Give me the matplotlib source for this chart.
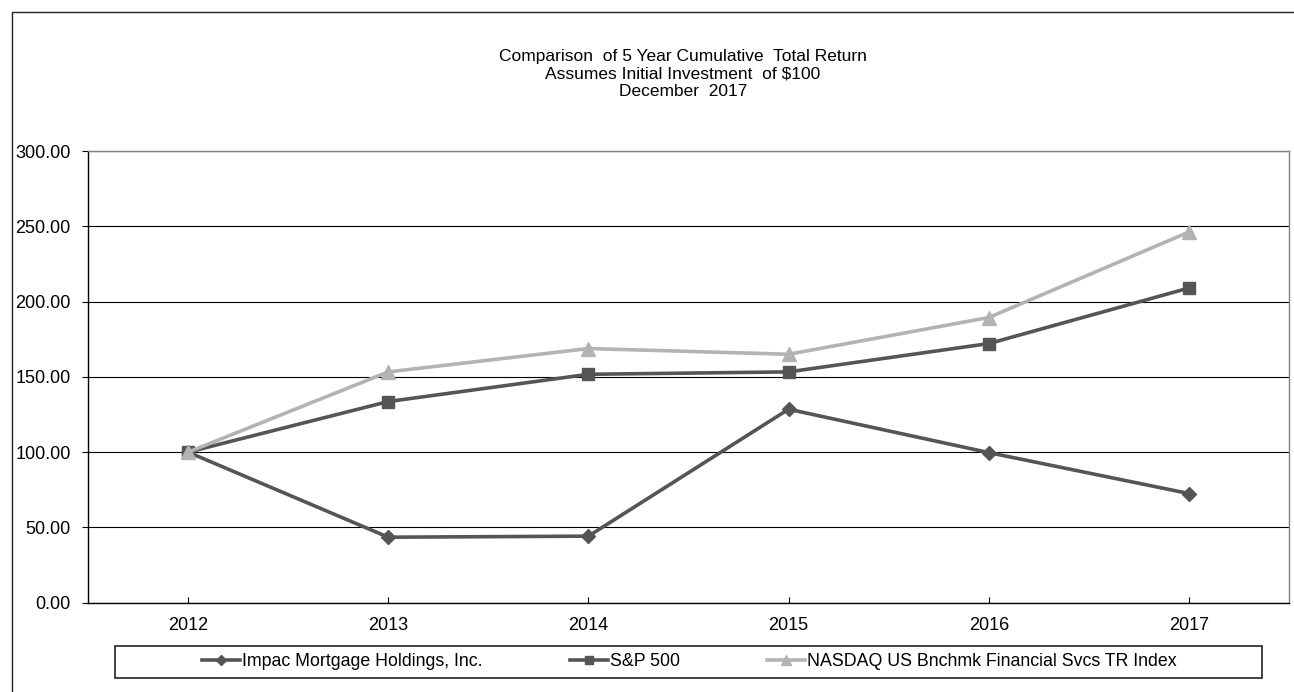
import matplotlib
matplotlib.use("Agg")
import matplotlib.pyplot as plt
from matplotlib.patches import Rectangle

plt.rcParams['font.family'] = ['Liberation Sans', 'DejaVu Sans']

# data
years = ['2012', '2013', '2014', '2015', '2016', '2017']
impac = [100.0, 43.5, 44.2, 128.5, 99.7, 72.5]
sp500 = [100.0, 133.6, 151.7, 153.3, 172.1, 209.0]
nasdaq = [100.0, 153.3, 168.8, 165.0, 189.4, 246.2]
yticks = [0, 50, 100, 150, 200, 250, 300]

W, H = 1294, 692
fig = plt.figure(figsize=(W / 100, H / 100), dpi=100)
ax = fig.add_axes([88 / W, (H - 602.7) / H, (1289 - 88) / W, (602.7 - 151) / H])

x = range(len(years))
dark = '#555555'
light = '#b3b3b3'
l1, = ax.plot(x, impac, color=dark, lw=2.6, marker='D', ms=6.8, label='Impac Mortgage Holdings, Inc.', zorder=3)
l2, = ax.plot(x, sp500, color=dark, lw=2.6, marker='s', ms=8, label='S&P 500', zorder=3)
l3, = ax.plot(x, nasdaq, color=light, lw=2.6, marker='^', ms=10, label='NASDAQ US Bnchmk Financial Svcs TR Index', zorder=4)

ax.set_xlim(-0.5, len(years) - 0.5)
ax.set_ylim(0, 300)
ax.set_xticks(list(x))
ax.set_xticklabels(years)
ax.set_yticks(yticks)
ax.set_yticklabels(['%.2f' % v for v in yticks])
ax.yaxis.grid(True, color='black', lw=0.8)
ax.set_axisbelow(True)
ax.tick_params(axis='x', direction='in', length=4, pad=10, labelsize=13, color='black')
ax.tick_params(axis='y', direction='out', length=4.5, pad=8, labelsize=13, color='black')
ax.spines['left'].set_color('black')
ax.spines['bottom'].set_color('black')
ax.spines['top'].set_color('#808080')
ax.spines['right'].set_color('#808080')
for s in ax.spines.values():
    s.set_linewidth(1)

cx = 683 / W
fig.text(cx, 1 - 56 / H, 'Comparison  of 5 Year Cumulative  Total Return', ha='center', va='center', fontsize=12.5)
fig.text(cx, 1 - 74 / H, 'Assumes Initial Investment  of $100', ha='center', va='center', fontsize=12.5)
fig.text(cx, 1 - 92 / H, 'December  2017', ha='center', va='center', fontsize=12.5)

# outer frame
fig.patches.append(Rectangle((12 / W, -0.1), 1.2, 1 - 12 / H + 0.1, transform=fig.transFigure,
                             fill=False, edgecolor='#222222', lw=1))

# legend box
fig.patches.append(Rectangle((115 / W, (H - 678) / H), (1262 - 115) / W, 32 / H, transform=fig.transFigure,
                             fill=False, edgecolor='#222222', lw=1.2))
fig.legend(handles=[l1, l2, l3], loc='center left', bbox_to_anchor=(202 / W, (H - 662) / H),
           ncol=3, frameon=False, fontsize=12.8, borderpad=0, borderaxespad=0,
           handlelength=2.15, handletextpad=0.11, columnspacing=4.9, markerscale=0.7)

fig.savefig('out.png', dpi=100)
